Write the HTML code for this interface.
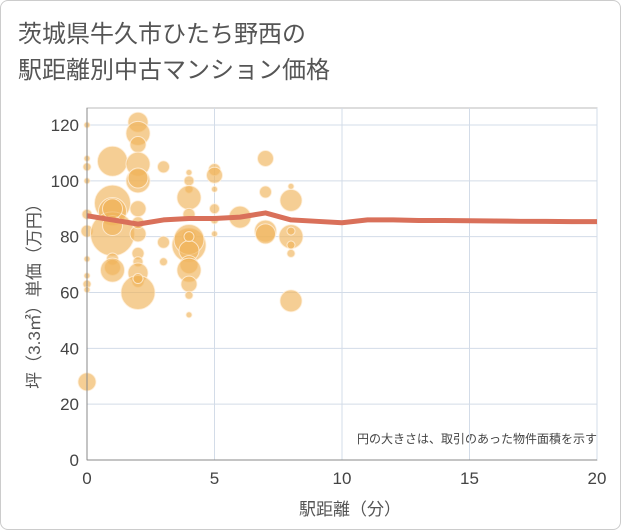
<!DOCTYPE html>
<html><head><meta charset="utf-8"><style>
body{margin:0;background:#fff;font-family:"Liberation Sans","Noto Sans CJK JP",sans-serif}
#wrap{position:relative;width:619px;height:528px;border:1px solid #ccc;border-radius:8px;background:#fff;overflow:hidden}
</style></head><body>
<div id="wrap">
<svg id="chart" width="621" height="530" style="position:absolute;left:-1px;top:-1px">
<text x="18" y="42" font-size="24" fill="#555">茨城県牛久市ひたち野西の</text>
<text x="18" y="78" font-size="24" fill="#555">駅距離別中古マンション価格</text>
<text x="597" y="443" font-size="12" fill="#444" text-anchor="end">円の大きさは、取引のあった物件面積を示す</text>
<text x="350" y="515" font-size="17" fill="#555" text-anchor="middle">駅距離（分）</text>
<text transform="translate(40,292) rotate(-90)" font-size="17" fill="#555" text-anchor="middle">坪（3.3㎡）単価（万円）</text>
<g id="grid"></g><g id="bubbles"></g><g id="line"></g><g id="axes"></g>
</svg></div>
<script>
const xTicks=[0,5,10,15,20];
const yTicks=[0,20,40,60,80,100,120];
const bx=[0,0,0,0,0,0,0,0,0,0,0, 1,1,1,1,1,1,1,1,1, 2,2,2,2,2,2,2,2,2,2,2,2,2,2,2, 3,3,3, 4,4,4,4,4,4,4,4,4,4,4,4,4,4,4, 5,5,5,5,5,5, 6, 7,7,7,7, 8,8,8,8,8,8,8];
const by=[120,108,105,100,88,72,66,63,61,28,82, 107,92,89,81,84,72,69,68,90, 121,117,113,106,100,101,90,81,85,74,71,67,64,60,65, 105,78,71, 103,100,97,94,88,80,77,79,75,70,68,63,59,52,80, 104,102,97,90,81,86, 87, 108,96,82,81, 98,93,80,82,77,74,57];
const br=[3,3,4,3,5,3,3,4,3,9,6, 15,18,14,22,10,6,8,12,10, 10,12,8,12,12,10,8,8,6,6,5,10,6,17,5, 6,6,4, 3,5,4,12,6,7,17,15,10,9,12,8,4,3,5, 6,8,3,5,3,4, 11, 8,6,11,10, 3,11,12,4,4,4,11];
const lineX=[0,1,2,3,4,5,6,7,8,9,10,11,12,13,14,15,16,17,18,19,20];
const lineY=[87.5,86,84.5,86,86.5,86.5,87,88.5,86,85.5,85,86,86,85.8,85.8,85.7,85.6,85.5,85.5,85.4,85.4];
const X0=87,X1=597,Y0=460,Y1=125;
const sx=v=>X0+(X1-X0)*v/20, sy=v=>Y0-(Y0-Y1)*v/120;
const NS="http://www.w3.org/2000/svg";
function mk(t,a,p){const e=document.createElementNS(NS,t);for(const k in a)e.setAttribute(k,a[k]);p.appendChild(e);return e;}
const grid=document.getElementById('grid'),axes=document.getElementById('axes');
mk('rect',{x:X0,y:108,width:X1-X0,height:Y0-108,fill:'none',stroke:'#bbb'},grid);
yTicks.forEach(v=>{const l=mk('line',{x1:X0,x2:X1,y1:sy(v),y2:sy(v),stroke:'#d3dce8'},grid);


const t=mk('text',{x:X0-8,y:sy(v)+6,'font-size':17,fill:'#444','text-anchor':'end'},axes);t.textContent=v;

});
xTicks.forEach(v=>{const l=mk('line',{x1:sx(v),x2:sx(v),y1:108,y2:Y0,stroke:'#d3dce8'},grid);


const t=mk('text',{x:sx(v),y:484,'font-size':17,fill:'#444','text-anchor':'middle'},axes);t.textContent=v;

});
mk('line',{x1:X0,x2:X1,y1:Y0,y2:Y0,stroke:'#888'},axes);
mk('line',{x1:X0,x2:X0,y1:108,y2:Y0,stroke:'#888'},axes);
const bg=document.getElementById('bubbles');
bx.forEach((x,i)=>{const c=mk('circle',{cx:sx(x),cy:sy(by[i]),r:br[i],fill:'rgba(240,180,90,0.65)',stroke:'rgba(255,240,220,0.8)','stroke-width':1},bg);

});
const p=mk('polyline',{points:lineX.map((x,i)=>sx(x)+','+sy(lineY[i])).join(' '),fill:'none',stroke:'#d9705a','stroke-width':5,'stroke-linejoin':'round'},document.getElementById('line'));


</script></body></html>
